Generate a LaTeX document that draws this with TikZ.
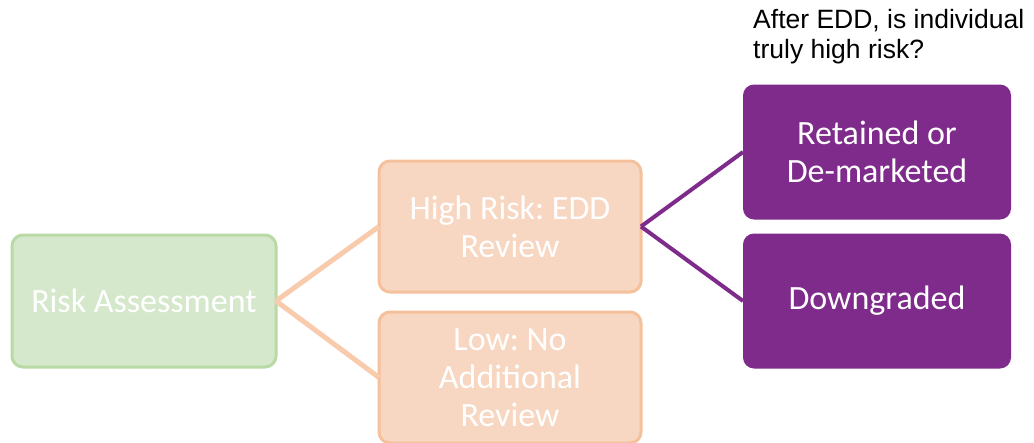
\documentclass[tikz,border=0pt]{standalone}
\usepackage{fontspec}
\setmainfont{Carlito}
\newfontfamily\arialfont{Liberation Sans}
\frenchspacing
\definecolor{gfill}{HTML}{D5E8CB}
\definecolor{gline}{HTML}{B9DAA5}
\definecolor{ofill}{HTML}{F8D7C2}
\definecolor{oline}{HTML}{F5C09C}
\definecolor{oconn}{HTML}{F8CBAD}
\definecolor{purp}{HTML}{7E2B8B}
\tikzset{
  boxbase/.style={rounded corners=11pt, align=center, text=white, inner sep=0pt, outer sep=0pt,
    font=\fontsize{34}{38}\selectfont},
  greenbox/.style={boxbase, fill=gfill, draw=gline, line width=3pt, minimum width=264pt, minimum height=132pt},
  orangebox/.style={boxbase, fill=ofill, draw=oline, line width=3pt, minimum width=262pt, minimum height=131pt},
  purplebox/.style={boxbase, fill=purp, draw=none, minimum width=268pt, minimum height=135pt},
  oconnector/.style={draw=oconn, line width=5pt},
  pconnector/.style={draw=purp, line width=4pt},
}
\begin{document}
\begin{tikzpicture}[x=1pt,y=-1pt]
\useasboundingbox (0,0) rectangle (1034,442);
\node[greenbox] (risk) at (144,301) {Risk Assessment};
\node[orangebox] (high) at (510,226.5) {High Risk: EDD\\Review};
\node[orangebox] (low) at (510,377.5) {Low: No\\Additional\\Review};
\node[purplebox] (ret) at (877,152) {Retained or\\De-marketed};
\node[purplebox] (down) at (877,301) {Downgraded};
\node[anchor=base west, inner sep=0pt, align=left, font=\arialfont\fontsize{26.5}{30}\selectfont] (q) at (753,58) {After EDD, is individual\\truly high risk?};
\draw[oconnector] (risk.east) -- (high.west);
\draw[oconnector] (risk.east) -- (low.west);
\draw[pconnector] (high.east) -- (ret.west);
\draw[pconnector] (high.east) -- (down.west);
\end{tikzpicture}
\end{document}
